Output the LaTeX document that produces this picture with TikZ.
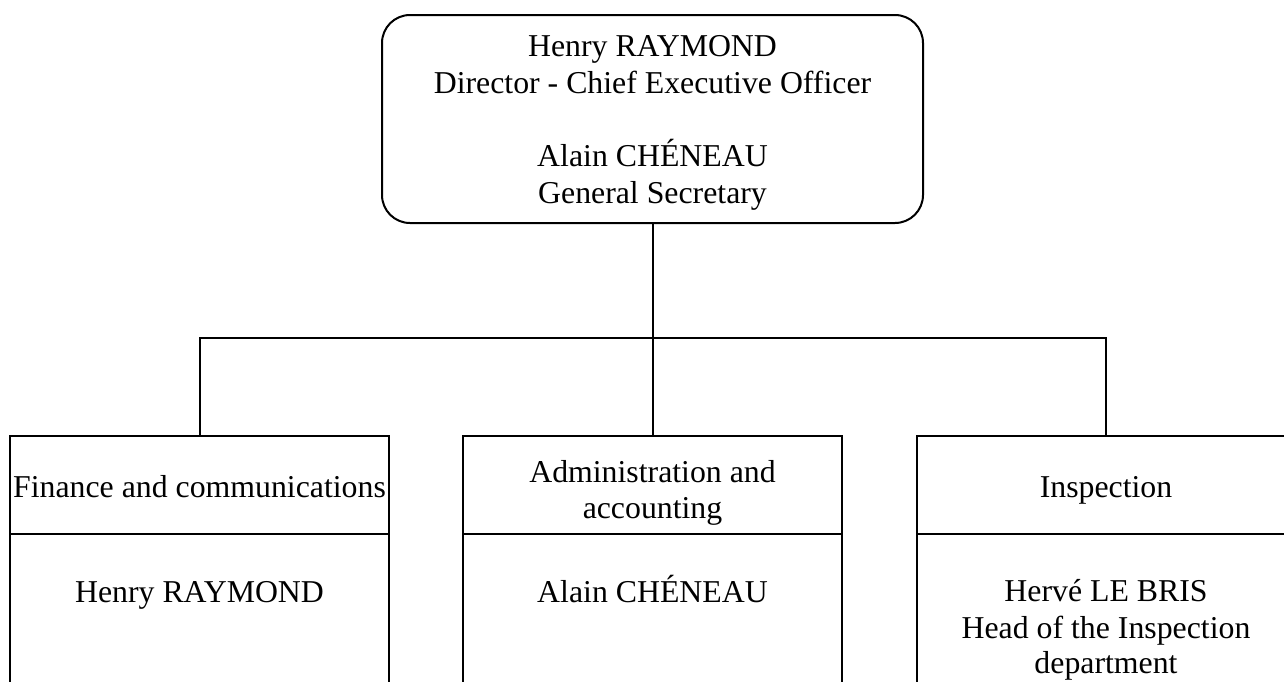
\documentclass[tikz,border=0pt]{standalone}
\usepackage{fontspec}
\setmainfont{Liberation Serif}
\begin{document}
\begin{tikzpicture}[x=1pt,y=-1pt,line width=2pt,
  every node/.style={font=\fontsize{31.8}{36.6}\selectfont},
  topbox/.style={draw,rounded corners=28pt,minimum width=541pt,minimum height=208pt,inner sep=0pt},
  hdrbox/.style={draw,minimum width=379pt,minimum height=98pt,inner sep=0pt},
  bodybox/.style={draw,minimum width=379pt,minimum height=180pt,inner sep=0pt},
  txt/.style={anchor=base,inner sep=0pt}]
\clip (0,0) rectangle (1284,681);
% top box
\node[topbox] (top) at (652.5,119) {};
\node[txt] (t1) at (652.5,56.7) {Henry RAYMOND};
\node[txt] (t2) at (652.5,93.3) {Director - Chief Executive Officer};
\node[txt] (t3) at (652.5,166.7) {Alain CHÉNEAU};
\node[txt] (t4) at (652.5,203.3) {General Secretary};
% department boxes
\node[hdrbox] (hA) at (199.5,485) {};
\node[hdrbox] (hB) at (652.5,485) {};
\node[hdrbox] (hC) at (1106,485) {};
\node[bodybox] (bA) at (199.5,624) {};
\node[bodybox] (bB) at (652.5,624) {};
\node[bodybox] (bC) at (1106,624) {};
% texts
\node[txt] (hAt) at (199.5,497) {Finance and communications};
\node[txt] (hBt1) at (652.5,482) {Administration and};
\node[txt] (hBt2) at (652.5,518) {accounting};
\node[txt] (hCt) at (1106,497) {Inspection};
\node[txt] (bAt) at (199.5,602.7) {Henry RAYMOND};
\node[txt] (bBt) at (652.5,602.7) {Alain CHÉNEAU};
\node[txt] (bCt1) at (1106,601.7) {Hervé LE BRIS};
\node[txt] (bCt2) at (1106,638) {Head of the Inspection};
\node[txt] (bCt3) at (1106,673) {department};
% connectors
\coordinate (bus) at (652.5,338);
\draw (top.south) -- (bus);
\draw (hA.north) |- (bus) -| (hC.north);
\draw (hB.north) -- (bus);
\end{tikzpicture}
\end{document}
